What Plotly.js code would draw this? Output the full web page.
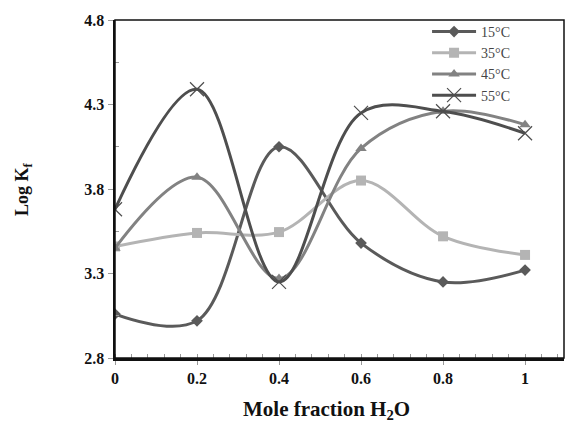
<!DOCTYPE html>
<html>
<head>
<meta charset="utf-8">
<script src="https://cdn.plot.ly/plotly-3.0.1.min.js"></script>
<style>html,body{margin:0;padding:0;background:#fff;}#chart{width:566px;height:426px;}</style>
</head>
<body>
<div id="chart"></div>
<script>
var moleFraction = [0, 0.2, 0.4, 0.6, 0.8, 1.0];
var seriesNames = ["15°C", "35°C", "45°C", "55°C"];
var logK15 = [3.06, 3.02, 4.05, 3.48, 3.25, 3.32];
var logK35 = [3.46, 3.54, 3.545, 3.85, 3.52, 3.41];
var logK45 = [3.45, 3.87, 3.27, 4.04, 4.26, 4.18];
var logK55 = [3.68, 4.39, 3.25, 4.25, 4.26, 4.13];
var xTickVals = [0, 0.2, 0.4, 0.6, 0.8, 1];
var xTickText = ["0", "0.2", "0.4", "0.6", "0.8", "1"];
var yTickVals = [2.8, 3.3, 3.8, 4.3, 4.8];
var yTickText = ["2.8", "3.3", "3.8", "4.3", "4.8"];

var serif = "Liberation Serif, Times New Roman, serif";
function trace(y, name, color, symbol, msize, mline) {
  return {
    x: moleFraction, y: y, name: name, type: "scatter", mode: "lines+markers",
    line: {color: color, width: 3, shape: "spline", smoothing: 1},
    marker: {color: color, symbol: symbol, size: msize, line: mline || {width: 0}}
  };
}
var data = [
  trace(logK15, seriesNames[0], "#5a5a5a", "diamond", 9),
  trace(logK35, seriesNames[1], "#b4b4b4", "square", 10),
  trace(logK45, seriesNames[2], "#828282", "triangle-up", 10),
  trace(logK55, seriesNames[3], "#4e4e4e", "x-thin-open", 14, {width: 1.2, color: "#8a8a8a"})
];
var layout = {
  width: 566, height: 426,
  margin: {l: 115, r: 2, t: 20, b: 68},
  paper_bgcolor: "#fff", plot_bgcolor: "#fff",
  showlegend: true,
  legend: {x: 0.695, y: 1.012, xanchor: "left", yanchor: "top", bgcolor: "rgba(0,0,0,0)",
    font: {family: serif, size: 14, color: "#444"}, itemwidth: 44, tracegroupgap: 0},
  xaxis: {
    range: [0, 1.095], showgrid: false, zeroline: false,
    showline: true, linecolor: "#111", linewidth: 2.5,
    tickmode: "array", tickvals: xTickVals, ticktext: xTickText,
    ticks: "outside", ticklen: 4, tickcolor: "#999", tickwidth: 1,
    minor: {dtick: 0.04, ticks: "inside", ticklen: 4, tickcolor: "#999", tickwidth: 1, showgrid: false},
    tickfont: {family: serif, size: 16, color: "#111", weight: "bold"}
  },
  yaxis: {
    range: [2.8, 4.8], showgrid: false, zeroline: false,
    showline: true, linecolor: "#111", linewidth: 2.5,
    tickmode: "array", tickvals: yTickVals, ticktext: yTickText,
    ticks: "outside", ticklen: 5, tickcolor: "#999", tickwidth: 1,
    minor: {tickvals: [3.05, 3.55, 4.05, 4.55], ticks: "inside", ticklen: 4, tickcolor: "#999", tickwidth: 1, showgrid: false},
    tickfont: {family: serif, size: 16, color: "#111", weight: "bold"}
  },
  shapes: [{type: "rect", xref: "paper", yref: "paper", x0: 0, x1: 1, y0: 0, y1: 1,
    line: {color: "#111", width: 1.5}}],
  annotations: [
    {text: "Log K<sub>f</sub>", xref: "paper", yref: "paper", x: -0.205, y: 0.5, textangle: -90,
     showarrow: false, xanchor: "center", yanchor: "middle",
     font: {family: serif, size: 18, color: "#111", weight: "bold"}},
    {text: "Mole fraction H<sub>2</sub>O", xref: "paper", yref: "paper", x: 0.47, y: -0.155,
     showarrow: false, xanchor: "center", yanchor: "middle",
     font: {family: serif, size: 21, color: "#111", weight: "bold"}}
  ]
};
Plotly.newPlot("chart", data, layout, {displayModeBar: false, staticPlot: true});
</script>
</body>
</html>
